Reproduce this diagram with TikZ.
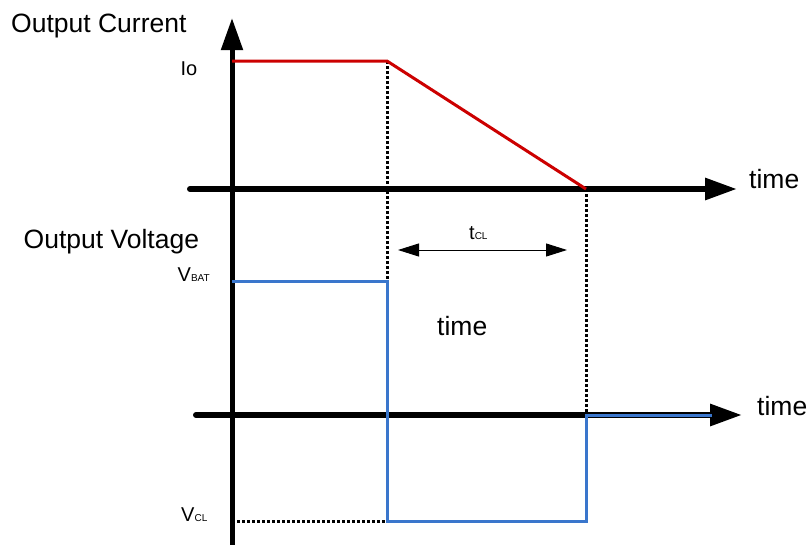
\documentclass[tikz,border=0pt]{standalone}
\usepackage{fontspec}
\setmainfont{Liberation Sans}
\usetikzlibrary{arrows.meta}
\definecolor{curred}{RGB}{204,0,0}
\definecolor{voltblue}{RGB}{58,118,204}
\begin{document}
\begin{tikzpicture}[x=1pt,y=-1pt,
  yaxis/.style={line width=5pt,-{Triangle[length=32pt,width=21pt]}},
  xaxis/.style={line width=6pt,line cap=round,-{Triangle[length=32pt,width=21pt]}},
  curline/.style={curred,line width=3pt},
  voltline/.style={voltblue,line width=3pt,line join=miter},
  dotline/.style={black,line width=3pt,dash pattern=on 3pt off 2pt},
  span/.style={line width=1pt,{Triangle[length=21pt,width=13pt]}-{Triangle[length=21pt,width=13pt]}},
  biglbl/.style={inner sep=0pt,font=\fontsize{26.5}{31}\selectfont},
  smalllbl/.style={inner sep=0pt,font=\fontsize{20}{24}\selectfont}]
\useasboundingbox (0,0) rectangle (809,544);
\newcommand{\subtxt}[1]{{\fontsize{10}{12}\selectfont #1}}
% coordinates
\coordinate (ybot) at (232,546);
\coordinate (ytop) at (232,18);
\coordinate (x1s) at (190,189);
\coordinate (x1e) at (737,189);
\coordinate (x2s) at (196,415);
\coordinate (x2e) at (742,415);
\coordinate (i0) at (232,61);
\coordinate (i1) at (387,61);
\coordinate (i2) at (586,189);
\coordinate (v0) at (232,281);
\coordinate (v1) at (387,281);
\coordinate (v2) at (387,521);
\coordinate (v3) at (586,521);
\coordinate (v4) at (586,415);
\coordinate (v5) at (712,415);
\coordinate (vcl) at (232,521);
\coordinate (t0) at (398,250);
\coordinate (t1) at (567,250);
% axes
\draw[yaxis] (ybot) -- (ytop);
\draw[xaxis] (x1s) -- (x1e);
\draw[xaxis] (x2s) -- (x2e);
% dotted guides
\draw[dotline] (i1) -- (v1);
\draw[dotline] (i2) -- (v4);
\draw[dotline] (vcl) -- (v2);
% curves
\draw[curline] (i0) -- (i1) -- (i2);
\draw[voltline] (v0) -- (v1) -- (v2) -- (v3) -- (v4) -- (v5);
% span arrow
\draw[span] (t0) -- (t1);
% labels
\node[biglbl,anchor=base west] (oc) at (11,32.5) {Output Current};
\node[biglbl,anchor=base west] (ov) at (23.5,248.3) {Output Voltage};
\node[biglbl,anchor=base west] (tm1) at (749,188.3) {time};
\node[biglbl,anchor=base west] (tm2) at (437,335) {time};
\node[biglbl,anchor=base west] (tm3) at (757,415) {time};
\node[smalllbl,anchor=base east] (io) at (197.5,75.5) {Io};
\node[smalllbl,anchor=base west] (vbat) at (177.5,281.7) {V\subtxt{BAT}};
\node[smalllbl,anchor=base west] (vclab) at (181,521) {V\subtxt{CL}};
\node[smalllbl,anchor=base west] (tcl) at (469,239) {t\subtxt{CL}};
\end{tikzpicture}
\end{document}
